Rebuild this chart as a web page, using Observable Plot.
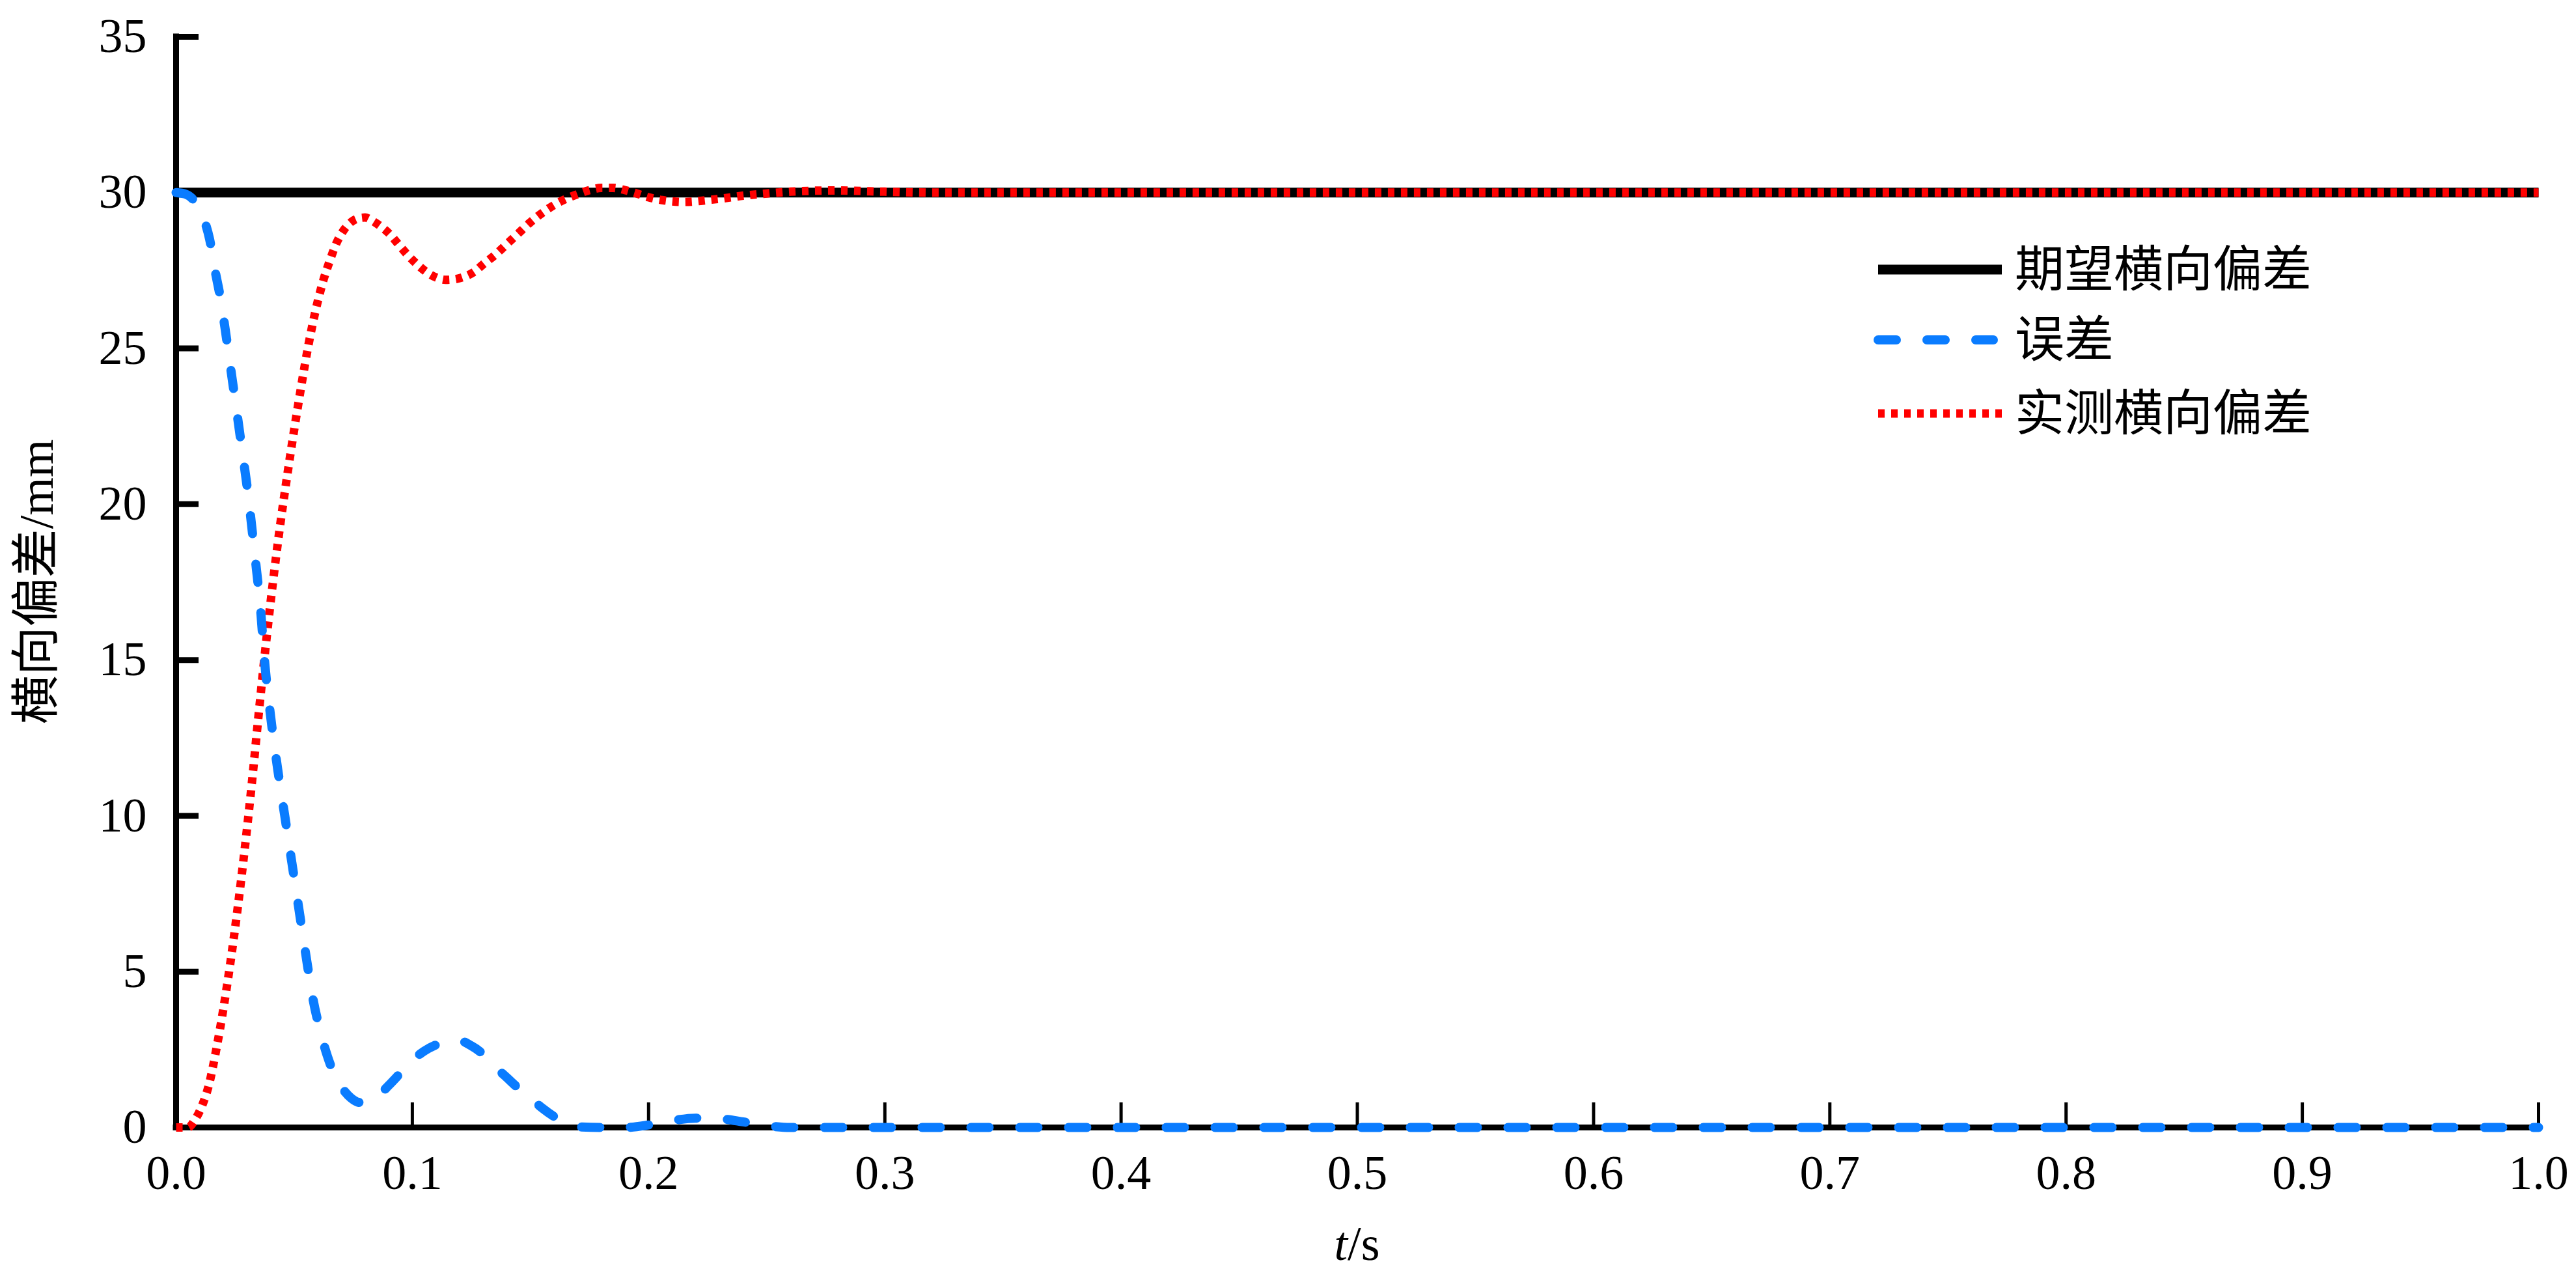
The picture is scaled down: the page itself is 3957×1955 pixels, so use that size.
<!DOCTYPE html>
<html>
<head>
<meta charset="utf-8">
<script src="https://cdn.jsdelivr.net/npm/d3@7"></script>
<script src="https://cdn.jsdelivr.net/npm/@observablehq/plot@0.6"></script>
<style>
  html, body { margin: 0; padding: 0; background: #ffffff; }
  #chart svg { display: block; }
</style>
</head>
<body>
<div id="chart"></div>
<script>
// ---- data ----
const seriesNames = ["期望横向偏差", "误差", "实测横向偏差"];

const desiredT = [0, 1.0];
const desiredV = [30, 30];

const measuredT = [0, 0.005, 0.008, 0.011, 0.014, 0.017, 0.020, 0.023, 0.026, 0.029, 0.032, 0.035, 0.038, 0.041, 0.044, 0.047, 0.050, 0.053, 0.056, 0.059, 0.062, 0.065, 0.068, 0.071, 0.074, 0.077, 0.080, 0.083, 0.086, 0.090, 0.094, 0.098, 0.102, 0.106, 0.110, 0.114, 0.118, 0.122, 0.126, 0.130, 0.135, 0.140, 0.145, 0.150, 0.155, 0.160, 0.165, 0.170, 0.175, 0.180, 0.185, 0.190, 0.195, 0.200, 0.205, 0.210, 0.215, 0.220, 0.225, 0.230, 0.240, 0.250, 0.260, 0.270, 0.280, 0.290, 0.300, 0.320, 0.400, 0.500, 0.600, 0.700, 0.800, 0.900, 1.000];
const measuredV = [0, 0.0, 0.25, 0.7, 1.4, 2.5, 3.8, 5.3, 7.0, 8.9, 11.0, 13.3, 15.5, 17.5, 19.3, 20.9, 22.4, 23.8, 25.1, 26.2, 27.1, 27.8, 28.4, 28.8, 29.05, 29.17, 29.2, 29.1, 28.95, 28.7, 28.35, 28.0, 27.7, 27.45, 27.28, 27.2, 27.22, 27.3, 27.45, 27.7, 28.0, 28.35, 28.7, 29.05, 29.35, 29.6, 29.8, 29.95, 30.08, 30.15, 30.15, 30.08, 29.97, 29.85, 29.77, 29.72, 29.7, 29.72, 29.76, 29.8, 29.9, 29.97, 30.03, 30.06, 30.07, 30.05, 30.03, 30.0, 30.0, 30.0, 30.0, 30.0, 30.0, 30.0, 30.0];

const errorT = [0, 0.004, 0.008, 0.0115, 0.0142, 0.0165, 0.0188, 0.021, 0.0234, 0.026, 0.028, 0.030, 0.033, 0.036, 0.0373, 0.040, 0.043, 0.046, 0.049, 0.052, 0.055, 0.058, 0.061, 0.064, 0.067, 0.070, 0.074, 0.078, 0.082, 0.086, 0.090, 0.095, 0.100, 0.105, 0.110, 0.115, 0.120, 0.125, 0.130, 0.135, 0.140, 0.145, 0.150, 0.155, 0.160, 0.165, 0.170, 0.180, 0.190, 0.200, 0.210, 0.220, 0.230, 0.240, 0.250, 0.260, 0.300, 0.400, 0.500, 0.600, 0.700, 0.800, 0.900, 1.000];
const errorV = [30, 29.95, 29.7, 29.2, 28.5, 27.5, 26.6, 25.5, 24.2, 22.8, 21.7, 20.6, 18.6, 16.4, 15.1, 13.2, 11.5, 10.0, 8.5, 7.0, 5.5, 4.1, 3.1, 2.3, 1.7, 1.3, 0.95, 0.8, 0.85, 1.05, 1.35, 1.75, 2.15, 2.45, 2.65, 2.78, 2.78, 2.62, 2.35, 1.95, 1.6, 1.25, 0.95, 0.62, 0.35, 0.15, 0.02, 0, 0, 0.08, 0.22, 0.3, 0.28, 0.18, 0.06, 0, 0, 0, 0, 0, 0, 0, 0, 0];

const xTickValues = [0, 0.1, 0.2, 0.3, 0.4, 0.5, 0.6, 0.7, 0.8, 0.9, 1.0];
const xTickMarks = [0.1, 0.2, 0.3, 0.4, 0.5, 0.6, 0.7, 0.8, 0.9, 1.0];
const yTickValues = [0, 5, 10, 15, 20, 25, 30, 35];
const yTickMarks = [5, 10, 15, 20, 25, 30, 35];

const xTitleItalic = "t";
const xTitleRest = "/s";
const yTitle = "横向偏差/mm";

// ---- tables ----
const desired = desiredT.map((t, i) => ({t, v: desiredV[i]}));
const measured = measuredT.map((t, i) => ({t, v: measuredV[i]}));
const error = errorT.map((t, i) => ({t, v: errorV[i]}));

const FONT = "'Liberation Serif', 'Times New Roman', 'Noto Sans CJK SC', serif";
const W = 3957, H = 1955;
const mL = 270, mR = 58, mT = 56, mB = 224;

const styles = {
  desired: {stroke: "#000000", strokeWidth: 15, strokeDasharray: null, strokeLinecap: "butt"},
  error: {stroke: "#0a7cff", strokeWidth: 14, strokeDasharray: "28,47", strokeLinecap: "round"},
  measured: {stroke: "#ff0000", strokeWidth: 13, strokeDasharray: "10,10", strokeLinecap: "butt"}
};

const chart = Plot.plot({
  width: W,
  height: H,
  marginLeft: mL,
  marginRight: mR,
  marginTop: mT,
  marginBottom: mB,
  style: {fontFamily: FONT, fontSize: "74px", background: "#ffffff", color: "#000000", overflow: "visible"},
  x: {domain: [0, 1], label: null},
  y: {domain: [0, 35], label: null},
  marks: [
    // axis lines
    Plot.ruleX([0], {y1: 0, y2: 35, stroke: "#000", strokeWidth: 9, strokeLinecap: "square"}),
    Plot.ruleY([0], {x1: 0, x2: 1, stroke: "#000", strokeWidth: 9, strokeLinecap: "square"}),
    // inward ticks
    Plot.axisY(yTickMarks, {anchor: "left", tickSize: -35, strokeWidth: 9, fill: "none", label: null}),
    Plot.axisX(xTickMarks, {anchor: "bottom", tickSize: -38, strokeWidth: 5, fill: "none", label: null}),
    // tick labels
    Plot.axisY(yTickValues, {anchor: "left", tickSize: 0, tickPadding: 45, fontSize: 74, fontFamily: FONT, label: null}),
    Plot.axisX(xTickValues, {anchor: "bottom", tickSize: 0, tickPadding: 42, fontSize: 74, fontFamily: FONT, tickFormat: d => d.toFixed(1), label: null}),
    // series
    Plot.line(desired, {x: "t", y: "v", ...styles.desired}),
    Plot.line(measured, {x: "t", y: "v", curve: "monotone-x", ...styles.measured}),
    Plot.line(error, {x: "t", y: "v", curve: "monotone-x", ...styles.error})
  ]
});

document.getElementById("chart").appendChild(chart);

// ---- titles and legend ----
const svg = d3.select(chart);
const cx = (mL + (W - mR)) / 2;
const cy = (mT + (H - mB)) / 2;

const xt = svg.append("text")
  .attr("x", cx).attr("y", 1910)
  .attr("text-anchor", "middle").attr("dominant-baseline", "central")
  .attr("font-family", FONT).attr("font-size", 74).attr("fill", "#000");
xt.append("tspan").attr("font-style", "italic").text(xTitleItalic);
xt.append("tspan").text(xTitleRest);

svg.append("text")
  .attr("transform", `translate(55,${cy}) rotate(-90)`)
  .attr("text-anchor", "middle").attr("dominant-baseline", "central")
  .attr("font-family", FONT).attr("font-size", 75).attr("fill", "#000")
  .text(yTitle);

const legendKeys = ["desired", "error", "measured"];
const legendRows = [414, 522, 635];
const lg = svg.append("g");
legendKeys.forEach((k, i) => {
  const s = styles[k];
  const y = legendRows[i];
  lg.append("line")
    .attr("x1", 2885).attr("x2", k === "error" ? 3062 : 3075)
    .attr("y1", y).attr("y2", y)
    .attr("stroke", s.stroke).attr("stroke-width", s.strokeWidth)
    .attr("stroke-dasharray", s.strokeDasharray)
    .attr("stroke-linecap", s.strokeLinecap);
  lg.append("text")
    .attr("x", 3095).attr("y", y)
    .attr("text-anchor", "start")
    .attr("dominant-baseline", "central")
    .attr("font-family", FONT).attr("font-size", 76).attr("fill", "#000")
    .text(seriesNames[i]);
});
</script>
</body>
</html>
